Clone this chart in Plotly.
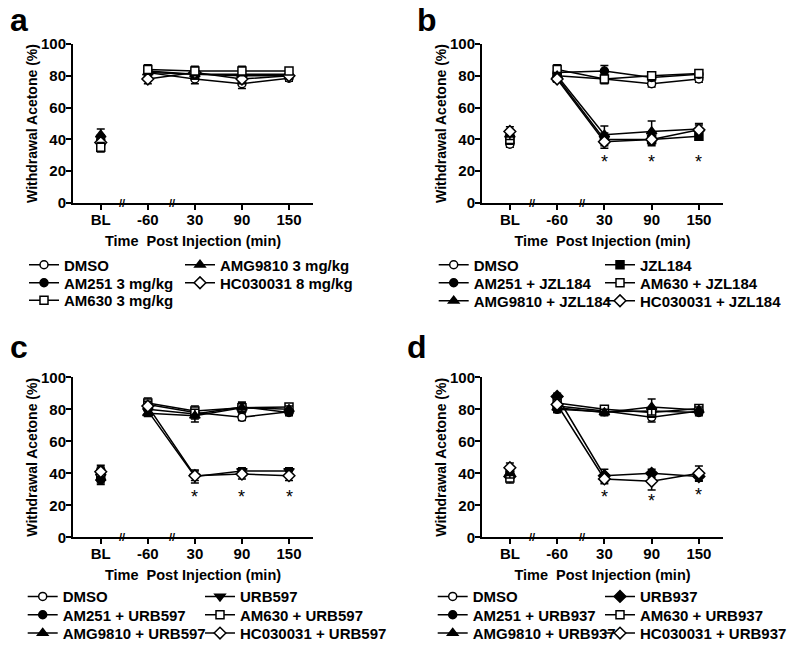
import plotly.graph_objects as go

W, H = 800, 645
OFF = 8  # default page margin of the html body

# ---------------- data ----------------
time_labels = ["BL", "-60", "30", "90", "150"]

# Panel a
a_names = ["DMSO", "AM251 3 mg/kg", "AM630 3 mg/kg", "AMG9810 3 mg/kg", "HC030031 8 mg/kg"]
a_dmso = [37, 82, 78, 75, 78.5]
a_am251 = [40, 83, 81, 80, 80]
a_am630 = [35, 84, 83, 83, 83]
a_amg = [43, 82, 81, 81, 81]
a_hc = [38, 78, 82, 78, 80]
a_err = [[3, 3, 3, 3, 2], [3, 3, 3, 3, 2], [3, 3, 3, 3, 2], [3.5, 3, 3, 3, 2], [3, 3, 3, 3, 2]]

# Panel b
b_names = ["DMSO", "AM251 + JZL184", "AM630 + JZL184", "JZL184", "AMG9810 + JZL184", "HC030031 + JZL184"]
b_dmso = [37, 80, 78, 75, 78]
b_am251 = [42, 82, 83, 79, 81]
b_am630 = [40, 84, 78, 80, 81.5]
b_jzl = [40, 79, 40, 40, 42]
b_amg = [43, 80, 43, 45, 46.5]
b_hc = [45, 78, 38.5, 40, 46]
b_err = [[2, 2, 2, 2, 2], [3, 3, 3.5, 2, 2], [3, 3, 3, 2, 2], [3, 2, 4, 3, 2], [3, 2, 5.5, 6.5, 3.5], [3, 2, 4, 4, 3]]

# Panel c
c_names = ["DMSO", "AM251 + URB597", "AM630 + URB597", "URB597", "AMG9810 + URB597", "HC030031 + URB597"]
c_dmso = [42, 83, 78, 75, 78.5]
c_am251 = [36, 80, 77, 81.5, 78]
c_am630 = [38, 84, 79, 81, 81.5]
c_urb = [38, 79, 38, 41.5, 41.5]
c_amg = [37, 77.5, 76, 81, 80]
c_hc = [41, 82, 38.5, 39.5, 38.5]
c_err = [[3, 3, 2, 2, 2], [3, 3, 3, 3, 2], [3, 3, 3, 3, 2], [3, 3, 4, 2, 2], [3, 2, 4, 3, 2], [3, 3, 3, 3, 3]]

# Panel d
d_names = ["DMSO", "AM251 + URB937", "AM630 + URB937", "URB937", "AMG9810 + URB937", "HC030031 + URB937"]
d_dmso = [41, 82, 79, 75, 79]
d_am251 = [39, 80, 78.5, 79, 78]
d_am630 = [37, 84, 80, 78, 80.5]
d_urb = [38, 88, 38.5, 40, 38]
d_amg = [40, 81, 78, 81.5, 79.5]
d_hc = [43.5, 83, 36.5, 35, 40]
d_err = [[3, 3, 2, 3, 2], [3, 2, 2, 2, 2], [3, 3, 2, 3, 2], [3, 2, 4, 2.5, 3], [3, 3, 2, 5, 2], [3, 3, 3, 5.5, 4.5]]

star_times = ["30", "90", "150"]
b_star_y = [26, 26, 26]
c_star_y = [25.5, 25.5, 25.5]
d_star_y = [25.5, 22.5, 26.5]

# ---------------- styling ----------------
FONT = "Liberation Sans, Arial, Helvetica, sans-serif"
sym = {
    "DMSO": ("circle-open", "circle"),
    "AM251": ("circle", "circle"),
    "AM630": ("square-open", "square"),
    "AMG9810": ("triangle-up", "triangle-up"),
    "HC030031": ("diamond-open", "diamond"),
    "JZL184": ("square", "square"),
    "URB597": ("triangle-down", "triangle-down"),
    "URB937": ("diamond", "diamond"),
}


def marker_for(name):
    key = name.split(" ")[0]
    s, base = sym[key]
    open_ = s.endswith("-open")
    size = 8 if base in ("circle", "square") else 9
    return dict(symbol=base, size=size, color="white" if open_ else "black",
                line=dict(color="black", width=1.5))


def px(x):
    return (x - OFF) / W


def py(y):
    return 1 - (y - OFF) / H


xpos = list(range(len(time_labels)))

fig = go.Figure()

# panel geometry (screen pixels)
panels = {
    "a": dict(xa="x", ya="y", xd=(73, 313), yd=(44, 203)),
    "b": dict(xa="x2", ya="y2", xd=(482, 723), yd=(44, 203)),
    "c": dict(xa="x3", ya="y3", xd=(73, 313), yd=(377.3, 537.3)),
    "d": dict(xa="x4", ya="y4", xd=(482, 723), yd=(377.3, 537.3)),
}

panel_series = {
    "a": (a_names, [a_dmso, a_am251, a_am630, a_amg, a_hc], a_err),
    "b": (b_names, [b_dmso, b_am251, b_am630, b_jzl, b_amg, b_hc], b_err),
    "c": (c_names, [c_dmso, c_am251, c_am630, c_urb, c_amg, c_hc], c_err),
    "d": (d_names, [d_dmso, d_am251, d_am630, d_urb, d_amg, d_hc], d_err),
}

# legend layout: rows (row-major) per panel
legend_rows = {
    "a": [["DMSO", "AMG9810 3 mg/kg"], ["AM251 3 mg/kg", "HC030031 8 mg/kg"], ["AM630 3 mg/kg"]],
    "b": [["DMSO", "JZL184"], ["AM251 + JZL184", "AM630 + JZL184"], ["AMG9810 + JZL184", "HC030031 + JZL184"]],
    "c": [["DMSO", "URB597"], ["AM251 + URB597", "AM630 + URB597"], ["AMG9810 + URB597", "HC030031 + URB597"]],
    "d": [["DMSO", "URB937"], ["AM251 + URB937", "AM630 + URB937"], ["AMG9810 + URB937", "HC030031 + URB937"]],
}
# text start of column 1 / column 2 and row centres (screen px)
legend_geom = {
    "a": dict(cols=[62, 218], rows=[265, 283, 300.5]),
    "b": dict(cols=[471.7, 638], rows=[265, 283, 301]),
    "c": dict(cols=[60.7, 238], rows=[596.7, 615, 633.3]),
    "d": dict(cols=[470.7, 638], rows=[596.7, 615, 633.3]),
}

legend_layouts = {}
legend_ids = {}
k = 0
for p in "abcd":
    g = legend_geom[p]
    for r, row in enumerate(legend_rows[p]):
        for c, nm in enumerate(row):
            k += 1
            lid = "legend" if k == 1 else f"legend{k}"
            legend_ids[(p, nm)] = lid
            legend_layouts[lid] = dict(
                orientation="v", x=px(g["cols"][c] - 38), y=py(g["rows"][r]),
                xanchor="left", yanchor="middle", itemwidth=30,
                font=dict(family=FONT, size=15, color="black", weight="bold"),
                bgcolor="rgba(0,0,0,0)", borderwidth=0, tracegroupgap=0,
            )

for p in "abcd":
    names, vals, errs = panel_series[p]
    info = panels[p]
    order = [nm for row in legend_rows[p] for nm in row]
    for nm in order:
        i = names.index(nm)
        mk = marker_for(nm)
        # baseline point (not joined to the post-injection course)
        fig.add_trace(go.Scatter(
            x=xpos[:1], y=vals[i][:1], name=nm, mode="markers",
            xaxis=info["xa"], yaxis=info["ya"], marker=mk,
            error_y=dict(type="data", array=errs[i][:1], color="black", thickness=1.5, width=4),
            showlegend=False, cliponaxis=False,
        ))
        fig.add_trace(go.Scatter(
            x=xpos[1:], y=vals[i][1:], name=nm, mode="lines+markers",
            xaxis=info["xa"], yaxis=info["ya"],
            line=dict(color="black", width=1.5), marker=mk,
            error_y=dict(type="data", array=errs[i][1:], color="black", thickness=1.5, width=4),
            legend=legend_ids[(p, nm)], cliponaxis=False,
        ))

layout = dict(
    width=W, height=H, margin=dict(l=0, r=0, t=0, b=0),
    paper_bgcolor="white", plot_bgcolor="white",
    font=dict(family=FONT, color="black"),
    showlegend=True,
)
layout.update(legend_layouts)

axis_font = dict(family=FONT, size=15, color="black", weight="bold")
for p in "abcd":
    info = panels[p]
    xn = "xaxis" if info["xa"] == "x" else "xaxis" + info["xa"][1:]
    yn = "yaxis" if info["ya"] == "y" else "yaxis" + info["ya"][1:]
    layout[xn] = dict(
        domain=[px(info["xd"][0]), px(info["xd"][1])], anchor=info["ya"],
        range=[-0.59, 4.51], tickvals=xpos, ticktext=time_labels,
        showline=True, linecolor="black", linewidth=2, ticks="outside", ticklen=5, tickwidth=2,
        tickcolor="black", showgrid=False, zeroline=False, tickfont=axis_font,
        ticklabelstandoff=-3,
        title=dict(text="Time\u00a0 Post Injection (min)",
                   font=dict(family=FONT, size=14.5, color="black", weight="bold"), standoff=9),
        automargin=False, fixedrange=True,
    )
    layout[yn] = dict(
        domain=[py(info["yd"][1]), py(info["yd"][0])], anchor=info["xa"],
        range=[0, 100], tickvals=[0, 20, 40, 60, 80, 100],
        showline=True, linecolor="black", linewidth=2, ticks="outside", ticklen=5, tickwidth=2,
        tickcolor="black", showgrid=False, zeroline=False, tickfont=axis_font,
        ticklabelstandoff=-3,
        title=dict(text="Withdrawal Acetone (%)",
                   font=dict(family=FONT, size=14, color="black", weight="bold"), standoff=0),
        automargin=False, fixedrange=True,
    )
fig.update_layout(**layout)

# panel letters
letters = {"a": (8, 20), "b": (415, 20), "c": (8, 347), "d": (405, 347)}
for p, (lx, ly) in letters.items():
    fig.add_annotation(text=p, x=px(lx), y=py(ly), xref="paper", yref="paper",
                       xanchor="left", yanchor="middle", showarrow=False,
                       font=dict(family=FONT, size=32, color="black", weight="bold"))

# axis break marks
for p in "abcd":
    info = panels[p]
    for bx in (0.46, 1.52):
        fig.add_annotation(text="//", x=bx, y=0, xref=info["xa"], yref=info["ya"],
                           xanchor="center", yanchor="middle", showarrow=False,
                           font=dict(family=FONT, size=11, color="black", weight="bold"))

# significance asterisks
for p, ys in (("b", b_star_y), ("c", c_star_y), ("d", d_star_y)):
    info = panels[p]
    for t, yv in zip(star_times, ys):
        fig.add_annotation(text="*", x=time_labels.index(t), y=yv, xref=info["xa"], yref=info["ya"],
                           xanchor="center", yanchor="middle", showarrow=False,
                           font=dict(family=FONT, size=18, color="black"))

fig.write_html("out.html")
